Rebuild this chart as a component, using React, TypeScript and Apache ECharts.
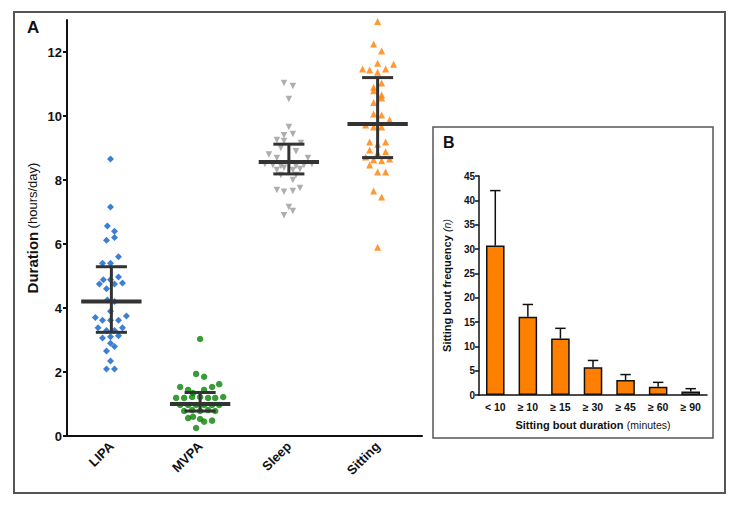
import React, { useEffect, useRef } from "react";
import * as echarts from "echarts";

const FONT = "'Liberation Sans', Arial, sans-serif";

// Panel A: activity categories
const activityCategories = ["LIPA", "MVPA", "Sleep", "Sitting"];

const lipaValues = [8.66, 7.16, 6.56, 6.4, 6.12, 6.2, 5.4, 5.4, 5.6, 4.75, 4.88, 4.88, 4.97, 4.75, 4.78, 4.6, 4.25, 4.2, 3.9, 3.7, 3.62, 3.62, 3.62, 3.75, 3.38, 3.3, 3.3, 3.38, 3.06, 3.1, 3.13, 2.9, 2.8, 2.66, 2.34, 2.09, 2.09];
const lipaJitter = [-0.01, -0.01, -0.045, 0.035, -0.055, 0.035, -0.1, -0.01, 0.08, -0.135, -0.09, -0.01, 0.08, 0.035, 0.125, -0.055, -0.045, 0.035, -0.01, -0.18, -0.1, -0.01, 0.08, 0.17, -0.15, -0.055, 0.035, 0.125, -0.1, -0.01, 0.08, -0.01, 0.035, -0.055, -0.01, -0.055, 0.035];

const mvpaValues = [3.03, 1.94, 1.85, 1.53, 1.44, 1.44, 1.53, 1.62, 1.34, 1.19, 1.19, 1.22, 1.22, 1.19, 1.19, 1.22, 0.97, 0.97, 0.97, 0.97, 0.97, 0.97, 0.78, 0.81, 0.78, 0.81, 0.78, 0.56, 0.6, 0.53, 0.45, 0.48, 0.25];
const mvpaJitter = [0, -0.045, 0.045, -0.225, -0.135, 0.045, 0.135, 0.215, -0.08, -0.27, -0.18, -0.09, 0, 0.09, 0.17, 0.26, -0.225, -0.135, -0.045, 0.045, 0.135, 0.215, -0.18, -0.09, 0, 0.09, 0.17, -0.135, -0.08, 0, 0.045, 0.135, -0.045];

const sleepValues = [11.03, 10.94, 10.53, 9.66, 9.4, 9.44, 9.25, 9.22, 9.16, 9.0, 8.9, 8.8, 8.69, 8.69, 8.5, 8.47, 8.44, 8.44, 8.47, 8.5, 8.31, 8.38, 8.31, 8.34, 8.16, 8.16, 8.0, 7.69, 7.63, 7.66, 7.75, 7.16, 7.03, 6.9];
const sleepJitter = [-0.055, 0.045, 0, 0, -0.055, 0.045, -0.135, -0.055, 0.135, -0.09, 0.08, -0.225, -0.135, 0.215, -0.27, -0.18, -0.09, 0.08, 0.17, 0.26, -0.135, -0.055, 0.045, 0.125, -0.09, 0.08, 0.045, -0.135, -0.055, 0.045, 0.125, 0, 0.045, -0.055];

const sittingValues = [12.95, 12.25, 12.03, 11.65, 11.62, 11.47, 11.44, 11.37, 11.47, 11.03, 10.9, 10.79, 10.66, 10.56, 10.42, 10.06, 10.03, 9.88, 9.72, 9.66, 9.66, 9.19, 9.12, 9.19, 8.94, 8.84, 8.88, 8.72, 8.63, 8.6, 8.66, 8.47, 8.25, 8.25, 7.66, 7.47, 5.9];
const sittingJitter = [0, -0.045, 0.045, 0, 0.18, -0.17, -0.09, 0, 0.09, 0.045, -0.045, -0.045, 0.045, 0.045, -0.045, -0.045, 0.045, 0.135, -0.135, -0.045, 0.045, -0.09, 0, 0.09, -0.09, 0, 0.09, -0.135, -0.045, 0.045, 0.135, -0.09, 0, 0.09, -0.045, 0.045, 0];

const groupMeans = [4.2, 1.0, 8.56, 9.75];
const groupSdLow = [3.24, 0.78, 8.19, 8.7];
const groupSdHigh = [5.29, 1.36, 9.12, 11.2];

const yTicksA = [0, 2, 4, 6, 8, 10, 12];

// Panel B
const boutCategories = ["< 10", "≥ 10", "≥ 15", "≥ 30", "≥ 45", "≥ 60", "≥ 90"];
const boutMeans = [30.7, 16.1, 11.6, 5.7, 3.1, 1.7, 0.7];
const boutErrTop = [42, 18.6, 13.7, 7.1, 4.2, 2.6, 1.3];

function pts(values: number[], jitter: number[], idx: number) {
  return values.map((v, i) => [idx + jitter[i], v]);
}

export default function App() {
  const ref = useRef<HTMLDivElement>(null);
  useEffect(() => {
    if (!ref.current) return;
    const chart = echarts.init(ref.current, undefined, { renderer: "svg" });
    const axisLabelA = { color: "#111", fontWeight: "bold", fontSize: 13, fontFamily: FONT };
    const option: any = {
      animation: false,
      backgroundColor: "#fff",
      graphic: [
        { type: "rect", shape: { x: 14, y: 12, width: 711, height: 481 }, style: { fill: "none", stroke: "#555", lineWidth: 2 }, z: -10 },
        { type: "rect", shape: { x: 433, y: 127, width: 280, height: 311 }, style: { fill: "#fff", stroke: "#555", lineWidth: 1.5 }, z: -10 },
        { type: "text", x: 27, y: 19, style: { text: "A", font: `bold 17px ${FONT}`, fill: "#111" }, z: 5 },
        { type: "text", x: 443, y: 134, style: { text: "B", font: `bold 16px ${FONT}`, fill: "#111" }, z: 5 },
      ],
      grid: [
        { left: 67, top: 20, width: 355, height: 416 },
        { left: 479, top: 176, width: 228, height: 219 },
      ],
      xAxis: [
        {
          type: "category", gridIndex: 0, data: activityCategories, boundaryGap: true, z: 4,
          axisLine: { onZero: false, lineStyle: { color: "#111", width: 2 } },
          axisTick: { alignWithLabel: true, length: 5, lineStyle: { width: 2, color: "#111" } },
          axisLabel: { ...axisLabelA, rotate: 45, margin: 8 },
        },
        { type: "value", gridIndex: 0, min: -0.5, max: 3.5, show: false },
        {
          type: "category", gridIndex: 1, data: boutCategories, boundaryGap: true, z: 4,
          axisLine: { onZero: false, lineStyle: { color: "#111", width: 1.5 } },
          axisTick: { show: false },
          axisLabel: { color: "#111", fontWeight: "bold", fontSize: 10.5, fontFamily: FONT, margin: 6, interval: 0 },
          name: "{b|Sitting bout duration} {n|(minutes)}",
          nameLocation: "middle", nameGap: 24,
          nameTextStyle: {
            rich: {
              b: { fontWeight: "bold", fontSize: 11, fontFamily: FONT, color: "#111" },
              n: { fontSize: 10.5, fontFamily: FONT, color: "#111" },
            },
          },
        },
      ],
      yAxis: [
        {
          type: "value", gridIndex: 0, min: 0, max: 13, interval: 2, z: 4,
          axisLine: { show: true, onZero: false, lineStyle: { color: "#111", width: 2 } },
          axisTick: { show: true, length: 4, lineStyle: { width: 2, color: "#111" } },
          splitLine: { show: false },
          axisLabel: { ...axisLabelA, margin: 5, showMaxLabel: false, formatter: (v: number) => (yTicksA.includes(v) ? String(v) : "") },
          name: "{b|Duration} {n|(hours/day)}",
          nameLocation: "middle", nameGap: 27, nameRotate: 90,
          nameTextStyle: {
            rich: {
              b: { fontWeight: "bold", fontSize: 15, fontFamily: FONT, color: "#111" },
              n: { fontSize: 13, fontFamily: FONT, color: "#111" },
            },
          },
        },
        {
          type: "value", gridIndex: 1, min: 0, max: 45, interval: 5, z: 4,
          axisLine: { show: true, onZero: false, lineStyle: { color: "#111", width: 1.5 } },
          axisTick: { show: true, length: 4, lineStyle: { width: 1.5, color: "#111" } },
          splitLine: { show: false },
          axisLabel: { color: "#111", fontWeight: "bold", fontSize: 10, fontFamily: FONT, margin: 4 },
          name: "{b|Sitting bout frequency} {i|(n)}",
          nameLocation: "middle", nameGap: 26, nameRotate: 90,
          nameTextStyle: {
            rich: {
              b: { fontWeight: "bold", fontSize: 11, fontFamily: FONT, color: "#111" },
              i: { fontStyle: "italic", fontSize: 10.5, fontFamily: FONT, color: "#111" },
            },
          },
        },
      ],
      series: [
        { type: "scatter", xAxisIndex: 1, yAxisIndex: 0, symbol: "diamond", symbolSize: 7, itemStyle: { color: "#0b5fc8" }, data: pts(lipaValues, lipaJitter, 0), z: 2 },
        { type: "scatter", xAxisIndex: 1, yAxisIndex: 0, symbol: "circle", symbolSize: 6.5, itemStyle: { color: "#078307" }, data: pts(mvpaValues, mvpaJitter, 1), z: 2 },
        { type: "scatter", xAxisIndex: 1, yAxisIndex: 0, symbol: "triangle", symbolRotate: 180, symbolSize: 6.5, itemStyle: { color: "#9a9a9a" }, data: pts(sleepValues, sleepJitter, 2), z: 2 },
        { type: "scatter", xAxisIndex: 1, yAxisIndex: 0, symbol: "triangle", symbolSize: 7, itemStyle: { color: "#ff7f00" }, data: pts(sittingValues, sittingJitter, 3), z: 2 },
        {
          type: "custom", xAxisIndex: 1, yAxisIndex: 0, z: 3,
          data: groupMeans.map((m, i) => [i, m, groupSdLow[i], groupSdHigh[i]]),
          renderItem: (params: any, api: any) => {
            const x = api.value(0);
            const pm = api.coord([x, api.value(1)]);
            const pl = api.coord([x, api.value(2)]);
            const ph = api.coord([x, api.value(3)]);
            const unit = api.size([1, 0])[0];
            const hm = unit * 0.34;
            const hc = unit * 0.175;
            const st = { stroke: "#333", lineWidth: 3 };
            return {
              type: "group",
              children: [
                { type: "line", shape: { x1: pm[0], y1: ph[1], x2: pm[0], y2: pl[1] }, style: st },
                { type: "line", shape: { x1: pm[0] - hc, y1: ph[1], x2: pm[0] + hc, y2: ph[1] }, style: st },
                { type: "line", shape: { x1: pm[0] - hc, y1: pl[1], x2: pm[0] + hc, y2: pl[1] }, style: st },
                { type: "line", shape: { x1: pm[0] - hm, y1: pm[1], x2: pm[0] + hm, y2: pm[1] }, style: { stroke: "#333", lineWidth: 4 } },
              ],
            };
          },
        },
        {
          type: "bar", xAxisIndex: 2, yAxisIndex: 1, data: boutMeans, barWidth: "57%",
          itemStyle: { color: "#ff8000", borderColor: "#111", borderWidth: 1.5 }, z: 2,
        },
        {
          type: "custom", xAxisIndex: 2, yAxisIndex: 1, z: 3,
          data: boutMeans.map((m, i) => [i, m, boutErrTop[i]]),
          renderItem: (params: any, api: any) => {
            const b = api.coord([api.value(0), api.value(1)]);
            const t = api.coord([api.value(0), api.value(2)]);
            const hc = api.size([1, 0])[0] * 0.16;
            const st = { stroke: "#111", lineWidth: 1.5 };
            return {
              type: "group",
              children: [
                { type: "line", shape: { x1: b[0], y1: b[1], x2: t[0], y2: t[1] }, style: st },
                { type: "line", shape: { x1: t[0] - hc, y1: t[1], x2: t[0] + hc, y2: t[1] }, style: st },
              ],
            };
          },
        },
      ],
    };
    chart.setOption(option);
    return () => chart.dispose();
  }, []);
  return <div ref={ref} style={{ position: "fixed", left: 0, top: 0, width: 733, height: 507 }} />;
}
